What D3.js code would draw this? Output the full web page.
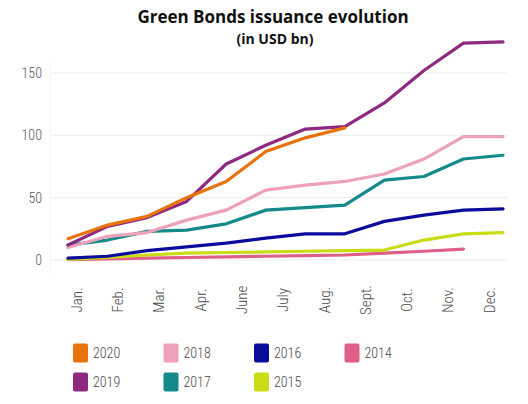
<!DOCTYPE html>
<html>
<head>
<meta charset="utf-8">
<script src="https://cdn.jsdelivr.net/npm/d3@7"></script>
<style>
  body { margin: 0; background: #fff; }
  svg { display: block; }
  .narrow { font-family: "Liberation Sans Narrow", "Roboto Condensed", "DejaVu Sans Condensed", sans-serif; font-weight: 300; }
</style>
</head>
<body>
<div id="chart"></div>
<script>
// data points are monthly (Jan..Dec), the axis shows 11 labels as in the original
const months = ['Jan', 'Feb', 'Mar', 'Apr', 'May', 'Jun', 'Jul', 'Aug', 'Sep', 'Oct', 'Nov', 'Dec'];
const monthLabels = ['Jan.', 'Feb.', 'Mar.', 'Apr.', 'June', 'July', 'Aug.', 'Sept.', 'Oct.', 'Nov.', 'Dec.'];
const yTicks = [0, 50, 100, 150];

const years = ['2020', '2019', '2018', '2017', '2016', '2015', '2014'];
const v2020 = [17, 28, 35, 50, 63, 87, 98, 106];
const v2019 = [12, 27, 34, 47, 77, 92, 105, 107, 126, 152, 174, 175];
const v2018 = [10, 19, 22, 32, 40, 56, 60, 63, 69, 81, 99, 99];
const v2017 = [12, 16, 23, 24, 29, 40, 42, 44, 64, 67, 81, 84];
const v2016 = [1.5, 3, 7.5, 10.5, 13.5, 17.5, 21, 21, 31, 36, 40, 41];
const v2015 = [0.5, 2, 4, 5.5, 6, 6.5, 7, 7.5, 8, 16, 21, 22];
const v2014 = [0.3, 0.8, 1.5, 2, 2.5, 3, 3.5, 4, 5.5, 7, 8.8];
const colors = ['#e8720c', '#8d2a80', '#eda2b9', '#158a8b', '#0c0c9c', '#c9dc16', '#de5f88'];

const series = [v2020, v2019, v2018, v2017, v2016, v2015, v2014].map((values, i) => ({
    year: years[i], color: colors[i], values
}));

const W = 528, H = 404;
const svg = d3.select('#chart').append('svg')
    .attr('width', W)
    .attr('height', H);

svg.append('rect').attr('width', W).attr('height', H).attr('fill', '#fff');

const x = d3.scalePoint(months, [68, 503]);
const xLab = d3.scaleBand(monthLabels, [56, 510]);
const y = d3.scaleLinear([0, 150], [260, 73]);

// title
svg.append('text')
    .attr('x', 273).attr('y', 23)
    .attr('text-anchor', 'middle')
    .attr('font-family', 'Open Sans, sans-serif')
    .attr('font-weight', 700)
    .attr('font-size', 17)
    .attr('fill', '#111')
    .text('Green Bonds issuance evolution');

svg.append('text')
    .attr('x', 275).attr('y', 44)
    .attr('text-anchor', 'middle')
    .attr('font-family', 'Open Sans, sans-serif')
    .attr('font-weight', 700)
    .attr('font-size', 14)
    .attr('fill', '#111')
    .text('(in USD bn)');

// grid
svg.append('g')
    .selectAll('line')
    .data(yTicks)
    .join('line')
        .attr('x1', 50).attr('x2', 507)
        .attr('y1', d => y(d)).attr('y2', d => y(d))
        .attr('stroke', '#ededed')
        .attr('stroke-width', 1);

svg.append('line')
    .attr('x1', 50).attr('x2', 50)
    .attr('y1', 60).attr('y2', 275)
    .attr('stroke', '#f3f3f3');

// y labels
svg.append('g')
    .attr('class', 'narrow')
    .selectAll('text')
    .data(yTicks)
    .join('text')
        .attr('x', 42)
        .attr('y', d => y(d))
        .attr('dy', '0.35em')
        .attr('text-anchor', 'end')
        .attr('font-size', 14)
        .attr('fill', '#595959')
        .text(d => d);

// x labels
svg.append('g')
    .attr('class', 'narrow')
    .selectAll('text')
    .data(monthLabels)
    .join('text')
        .attr('transform', d => `translate(${xLab(d) + xLab.bandwidth() / 2},300) rotate(-90)`)
        .attr('dy', '0.35em')
        .attr('text-anchor', 'middle')
        .attr('font-size', 15)
        .attr('fill', '#4a4a4a')
        .text(d => d);

// lines, oldest first so recent years are on top
const line = d3.line()
    .x((d, i) => x(months[i]))
    .y(d => y(d));

svg.append('g')
    .selectAll('path')
    .data(series.slice().reverse())
    .join('path')
        .attr('d', d => line(d.values))
        .attr('fill', 'none')
        .attr('stroke', d => d.color)
        .attr('stroke-width', 3.2)
        .attr('stroke-linejoin', 'round')
        .attr('stroke-linecap', 'round');

// legend
const legend = svg.append('g').attr('class', 'narrow');
const items = legend.selectAll('g')
    .data(series)
    .join('g')
        .attr('transform', (d, i) => `translate(${73 + Math.floor(i / 2) * 90.5},${i % 2 === 0 ? 353 : 382})`);

items.append('rect')
    .attr('x', 0).attr('y', -9.5)
    .attr('width', 15).attr('height', 19)
    .attr('rx', 2)
    .attr('fill', d => d.color);

items.append('text')
    .attr('x', 20).attr('y', 0)
    .attr('dy', '0.35em')
    .attr('font-size', 14)
    .attr('fill', '#4a4a4a')
    .text(d => d.year);
</script>
</body>
</html>
